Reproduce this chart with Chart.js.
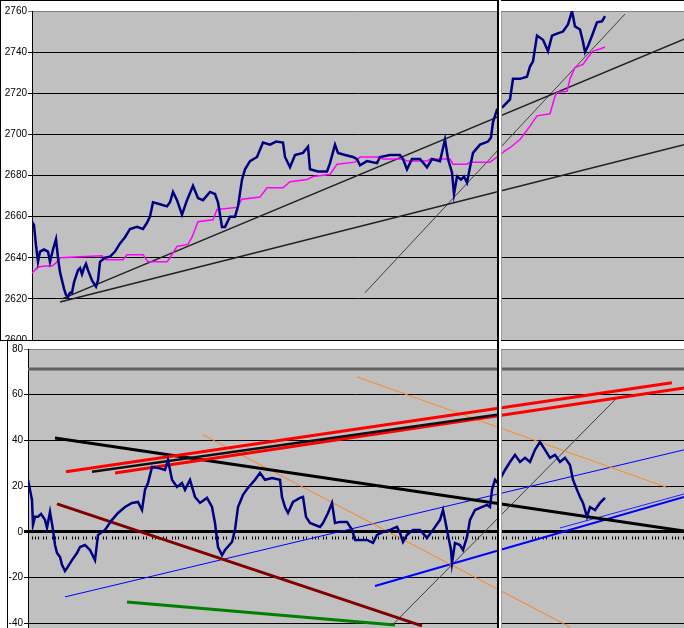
<!DOCTYPE html>
<html>
<head>
<meta charset="utf-8">
<script src="https://cdn.jsdelivr.net/npm/chart.js@4"></script>
<style>
  body { margin: 0; background: #fff; }
  #wrap { position: relative; width: 684px; height: 628px; overflow: hidden; background: #fff; }
  canvas { position: absolute; left: 0; }
  #topChart { top: 0; }
  #bottomChart { top: 340px; background: #fff; }
</style>
</head>
<body>
<div id="wrap">
  <canvas id="topChart" width="684" height="350"></canvas>
  <canvas id="bottomChart" width="684" height="298"></canvas>
</div>
<script>
// time axis: one unit = one sample slot, shared by both panels
const topTicks = [2760, 2740, 2720, 2700, 2680, 2660, 2640, 2620, 2600];
const bottomTicks = [80, 60, 40, 20, 0, -20, -40];

// [time, price]
const topPrice = [
  [1, 2657.5], [1.5, 2656], [2, 2646], [2.5, 2638], [3, 2643], [4, 2644], [5, 2643], [5.5, 2638],
  [6.25, 2644], [7, 2649], [7.5, 2640], [8, 2633], [8.5, 2629], [9, 2625], [9.5, 2622], [10, 2621],
  [10.5, 2623], [11, 2623], [11.5, 2628], [12, 2631], [12.5, 2634], [13, 2635], [13.5, 2632], [14, 2635],
  [14.5, 2637], [15, 2634], [16, 2629], [17, 2626], [17.5, 2629], [18, 2638], [19.25, 2640], [20.5, 2640.5],
  [21.75, 2643], [23, 2647], [24.25, 2650], [25.5, 2654], [27.25, 2655], [28.75, 2654], [29.75, 2657],
  [30.5, 2660], [31.25, 2667], [33, 2666], [34.75, 2665], [35.5, 2667], [36.25, 2672], [37.25, 2668],
  [38.5, 2661], [39.75, 2668], [41.25, 2675], [42.5, 2669], [43.75, 2668], [45.5, 2672], [46.75, 2671],
  [47.5, 2667], [48.5, 2655], [49.25, 2655], [50.5, 2660], [51.75, 2660], [52.5, 2665], [53.5, 2678],
  [54.25, 2683], [55.5, 2687], [57.25, 2689], [58.75, 2696], [60.5, 2695], [62, 2696.5], [63.75, 2696],
  [64.25, 2689], [65.5, 2684], [66.75, 2690], [68.75, 2691], [70, 2694], [70.5, 2683], [72.5, 2682],
  [74.75, 2682], [75.5, 2686], [76.75, 2695], [77.5, 2691], [79.25, 2690], [81.25, 2689], [82.25, 2688],
  [83, 2685], [84.75, 2687], [87.25, 2686], [88, 2689], [90.5, 2690], [93, 2690], [93.75, 2688],
  [94.75, 2683], [96, 2688], [98, 2688], [99.75, 2684], [101, 2688], [103, 2687], [104.25, 2697.5],
  [105, 2688], [106, 2681.5], [106.5, 2671], [107.25, 2679.5], [108.25, 2678], [109, 2679.5],
  [109.75, 2676.5], [110.5, 2684], [111.25, 2691], [113, 2695], [115, 2696.5], [115.75, 2698.5],
  [116.25, 2706], [117.25, 2712], [118.75, 2713.5], [120.5, 2717], [121.25, 2727], [123, 2727],
  [124.75, 2728], [125.5, 2733], [126.25, 2735.5], [127.25, 2748], [128.75, 2746], [130, 2740.5],
  [131, 2748], [132.25, 2749], [133.75, 2750], [135, 2753.5], [136, 2760], [136.75, 2752.5], [138, 2751],
  [138.75, 2745], [139.25, 2740], [140, 2743], [141, 2748], [142.25, 2754.5], [143.5, 2755], [144.25, 2757.5]
];

const topAverage = [
  [1, 2632.5], [2.5, 2635.5], [4.25, 2636], [6, 2636], [7, 2637.5], [8, 2640], [13, 2640.5], [18.5, 2641],
  [19.5, 2639], [23.75, 2639], [24.75, 2641.5], [28.75, 2641.5], [30, 2638], [34.75, 2638], [35.5, 2640],
  [37.25, 2645.5], [40, 2646.5], [41, 2650], [42.5, 2657.5], [46.25, 2658.5], [47.25, 2663.5],
  [52.25, 2664.5], [53.5, 2668.5], [58, 2669.5], [59.75, 2674], [63.75, 2674], [65.5, 2677], [69.75, 2678],
  [71.25, 2679.5], [75.5, 2680.5], [77.25, 2685.5], [81.75, 2686.5], [83, 2689], [87.5, 2689], [88.75, 2688],
  [93.75, 2688], [94.75, 2687], [99.75, 2687], [100.5, 2688], [105.5, 2688], [106.25, 2685.5],
  [109.75, 2685.5], [110.5, 2686.5], [115.5, 2686.5], [117.25, 2689], [119.25, 2692], [120.5, 2693.5],
  [123, 2697.5], [125.5, 2704], [127.25, 2709], [130.5, 2710], [131.75, 2718.5], [132.25, 2720.5],
  [134.75, 2721], [135.5, 2727], [136.75, 2732.5], [138.75, 2734], [140, 2737.5], [141.25, 2740.5],
  [143, 2741.5], [144.25, 2742.5]
];

const topTrendA = [[8.5, 2620], [164, 2746.3]];
const topTrendB = [[8, 2618.5], [164, 2695]];
const topTrendC = [[84.25, 2623], [149.25, 2758.5]];

// [time, oscillator value]
const bottomOsc = [
  [0, 22.8], [0.5, 18.4], [1, 14], [1.25, 3.1], [1.75, 6.6], [2.5, 6.6], [3.25, 7.9], [4.25, 5.3], [4.75, 1.8],
  [5.5, 8.8], [6.25, 0.9], [6.75, -5.7], [7.25, -9.2], [8, -10.9], [8.5, -14.4], [9.25, -17.1], [9.75, -15.8],
  [11, -12.3], [12.25, -9.2], [13, -6.6], [14.25, -5.7], [15.5, -7.9], [16.75, -12.3], [17.5, -1.3],
  [19.25, 0.9], [21, 5.3], [22.5, 8.3], [24.25, 10.9], [26, 12.7], [27.5, 13.1], [28.5, 9.6], [29.25, 18.4],
  [30, 21.4], [31, 28.4], [32.5, 28], [34.25, 27.1], [35, 31.5], [36, 22.8], [37.25, 19.7], [38.5, 21.4],
  [39.25, 18.4], [40.5, 22.8], [41.75, 15.3], [43, 12.7], [44.75, 14.9], [46, 10.9], [46.75, 3.9],
  [47.5, -6.6], [48.5, -10.1], [49.25, -7.9], [51, -4.4], [51.75, 0.9], [52.5, 10.9], [53.75, 16.2],
  [55, 19.3], [56.75, 22.8], [58, 25.8], [59.25, 22.8], [61, 23.6], [63, 22.8], [63.5, 15.3], [64.25, 10.9],
  [65, 8.3], [66.25, 13.1], [68, 14.9], [68.75, 15.3], [69.5, 6.6], [70.5, 3.9], [73, 2.2], [73.75, 3.9],
  [75, 8.3], [76, 12.7], [76.75, 3.9], [78, 4.4], [79.75, 4.4], [81, 0.9], [81.75, -3.5], [83, -3.5],
  [84.75, -3.5], [86.25, -4.8], [87.25, -1.3], [88.75, 0], [90.5, 0.9], [92.25, 2.2], [93, -0.4],
  [93.75, -4.4], [94.75, -1.3], [96.25, 0.9], [98, 0.9], [99.75, -2.6], [101.25, 0.9], [103, 5.3],
  [103.75, 9.6], [104.25, 5.3], [105, -1.3], [105.75, -7.9], [106, -13.6], [106.75, -4.8], [108, -5.7],
  [108.75, -7.9], [109.75, -2.2], [110.5, 5.3], [111.75, 9.6], [113, 10.5], [114.75, 11.8], [115.5, 10.9],
  [116, 18.4], [116.75, 22.8], [117.5, 21.4], [119.25, 27.1], [120.5, 30.6], [121.75, 33.7], [123, 30.6],
  [124.25, 32.4], [125.5, 30.6], [126.75, 35.9], [128, 39.4], [129.25, 35.9], [130.5, 32.4], [131.75, 33.7],
  [133, 30.6], [134.25, 32.4], [135.5, 29.3], [136.25, 22.8], [137.25, 18.4], [138, 15.3], [138.75, 12.7],
  [139.75, 6.6], [140.5, 10.9], [141.75, 9.6], [143, 12.7], [144.25, 14.9]
];

const bottomLevel = [[0, 71.3], [164, 71.3]];
const bottomMarkers = [[1, -2.6], [164, -2.6]];
const redUpper = [[9.5, 26.3], [161, 65.2]];
const redLower = [[21.75, 25.8], [164, 63]];
const blackChannel = [[16, 26.3], [117.25, 51.2]];
const blackDown = [[6.75, 41.1], [164, 0.4]];
const maroonDown = [[7.25, 12.3], [98.5, -41.1]];
const greenDown = [[24.75, -30.6], [91.75, -40.7]];
const orangeUpper = [[82.25, 67.8], [160, 19.3]];
const orangeLower = [[43.75, 42.5], [135.5, -41.6]];
const blueLong = [[9.25, -28.4], [164, 35.9]];
const blueMid = [[86.75, -23.6], [164, 15.3]];
const blueShort = [[133, 1.75], [164, 16.6]];
const greySteep = [[91.25, -40.4], [147.5, 59.1]];

function pts(arr) {
  return arr.map(p => ({ x: p[0], y: p[1] }));
}

function line(arr, color, width, dash) {
  return {
    data: pts(arr),
    borderColor: color,
    borderWidth: width,
    borderDash: dash || [],
    pointRadius: 0,
    fill: false,
    tension: 0
  };
}

const panelBg = {
  id: 'panelBg',
  beforeDraw(chart) {
    const { ctx, chartArea: a } = chart;
    ctx.save();
    ctx.fillStyle = '#fff';
    ctx.fillRect(0, 0, chart.width, chart.height);
    ctx.fillStyle = '#c0c0c0';
    ctx.fillRect(a.left, a.top, a.right - a.left, a.bottom - a.top);
    ctx.restore();
  }
};

const frame = {
  id: 'frame',
  afterDraw(chart, args, opts) {
    const ctx = chart.ctx;
    ctx.save();
    ctx.fillStyle = '#000';
    ctx.fillRect(0, 0, chart.width, 1);
    ctx.fillRect(opts.leftLine, 0, 1, chart.height);
    ctx.fillRect(497, 0, 2, chart.height);
    ctx.fillStyle = '#fff';
    ctx.fillRect(499, 0, 2, chart.height);
    ctx.fillStyle = '#a0a0a0';
    ctx.fillRect(501, chart.chartArea.top, 1, chart.height);
    ctx.restore();
  }
};

function panelOptions(xMin, yMin, yMax, ticks, axisWidth, pad, topValue, zeroValue, leftLine) {
  return {
    responsive: false,
    animation: false,
    devicePixelRatio: 1,
    layout: { padding: pad },
    plugins: {
      legend: { display: false },
      tooltip: { enabled: false },
      frame: { leftLine: leftLine }
    },
    scales: {
      x: { type: 'linear', display: false, min: xMin, max: 164 },
      y: {
        min: yMin,
        max: yMax,
        afterBuildTicks: s => { s.ticks = ticks.map(v => ({ value: v })); },
        afterFit: s => { s.width = axisWidth; },
        ticks: {
          autoSkip: false,
          padding: 1,
          color: '#000',
          font: { family: 'Liberation Sans, Arial, sans-serif', size: 10 },
          callback: v => String(v)
        },
        grid: {
          tickLength: 4,
          color: c => (c.tick && c.tick.value === topValue) ? '#808080' : '#000',
          lineWidth: c => (c.tick && c.tick.value === zeroValue) ? 3 : 1
        },
        border: { color: '#000', width: 1 }
      }
    }
  };
}

new Chart(document.getElementById('topChart').getContext('2d'), {
  type: 'line',
  data: {
    datasets: [
      line(topPrice, '#000080', 2.5),
      line(topAverage, '#ff00ff', 1.5),
      line(topTrendA, '#202020', 1.5),
      line(topTrendB, '#202020', 1.5),
      line(topTrendC, '#404040', 1)
    ]
  },
  options: panelOptions(1, 2600, 2760, topTicks, 32, { top: 11, bottom: 10, left: 0, right: 0 }, 2760, null, 0),
  plugins: [panelBg, frame]
});

new Chart(document.getElementById('bottomChart').getContext('2d'), {
  type: 'line',
  data: {
    datasets: [
      line(bottomOsc, '#000080', 2.5),
      line(redUpper, '#ff0000', 3),
      line(blackChannel, '#101010', 2.5),
      line(redLower, '#ff0000', 3),
      line(blackDown, '#000000', 3),
      line(maroonDown, '#800000', 3),
      line(greenDown, '#008000', 3),
      line(orangeUpper, '#ff8c1a', 1),
      line(orangeLower, '#ff8020', 1),
      line(blueLong, '#0000ff', 1),
      line(blueMid, '#0000ff', 2),
      line(blueShort, '#2020ff', 1),
      line(greySteep, '#404040', 1),
      line(bottomMarkers, '#000000', 3, [1, 2, 1, 2, 1, 4, 1, 2, 1, 5]),
      line(bottomLevel, '#606060', 3)
    ]
  },
  options: panelOptions(0, -42, 80, bottomTicks, 28, { top: 9, bottom: 10, left: 0, right: 0 }, 80, 0, 7),
  plugins: [panelBg, frame]
});
</script>
</body>
</html>
